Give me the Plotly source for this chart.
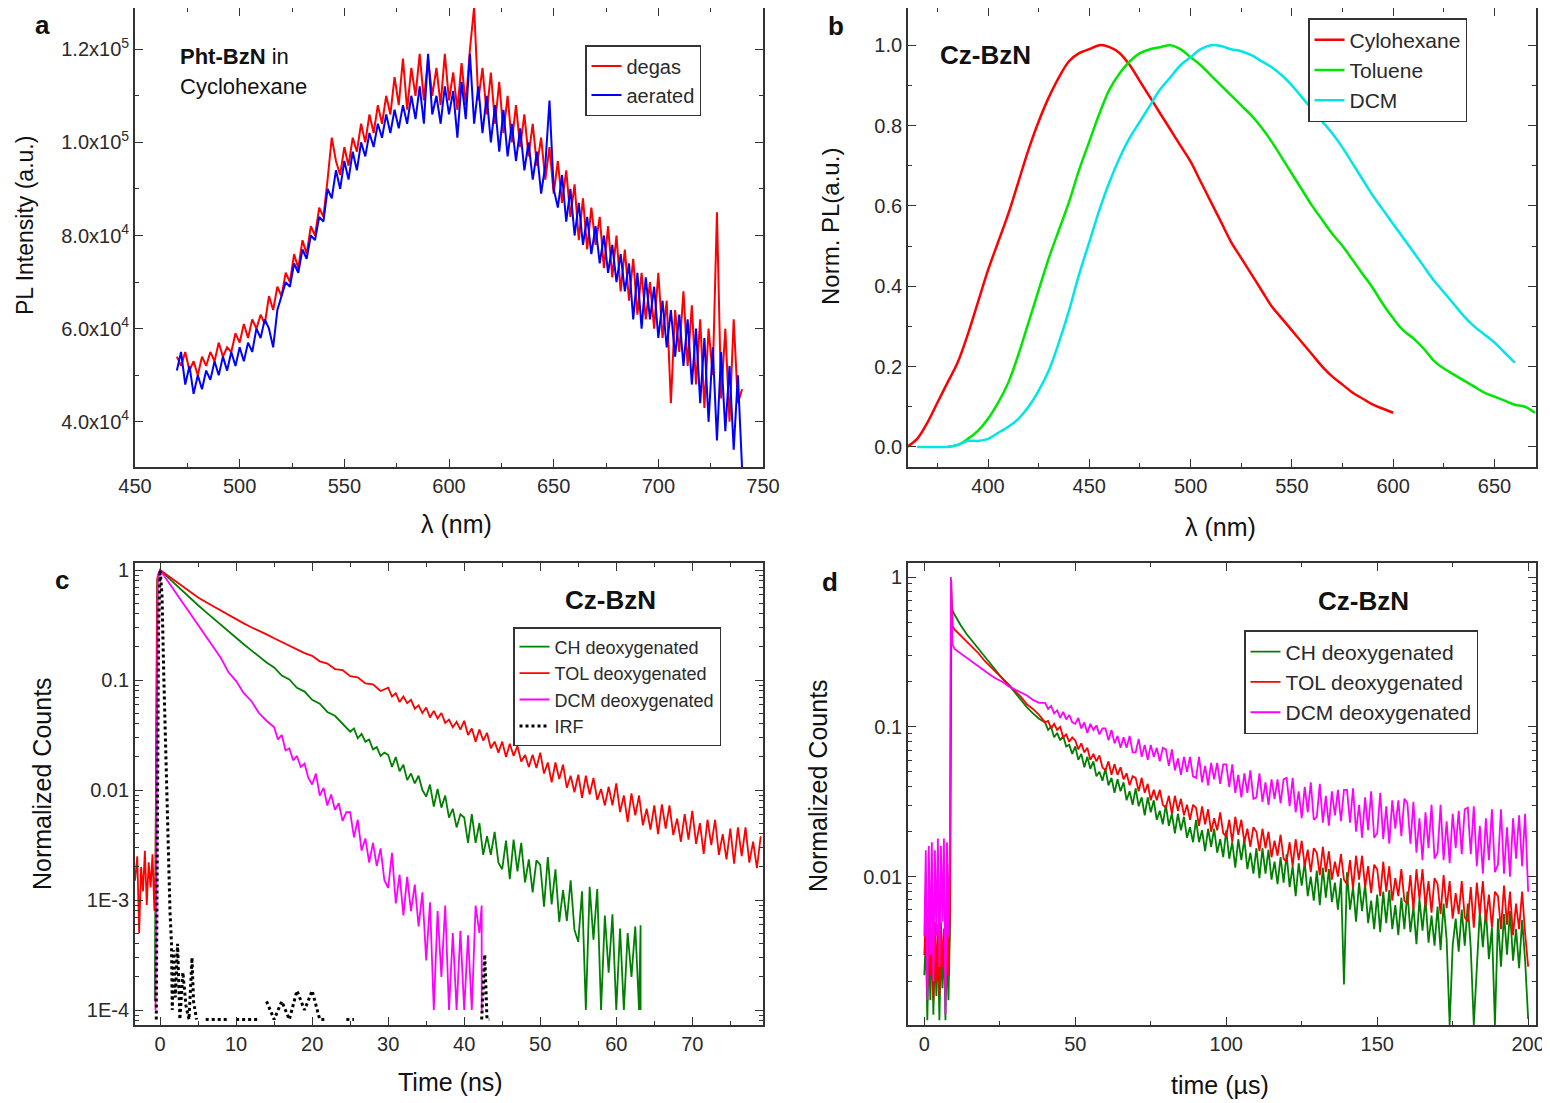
import plotly.graph_objects as go

# ---------------- data: panel a (Pht-BzN in cyclohexane) ----------------
a_wl = list(range(470, 741, 2))
a_degas_k = [54, 52, 55, 51, 53, 50, 54, 52, 55, 53,
             57, 54, 56, 55, 59, 57, 61, 58, 62, 60,
             63, 61, 67, 64, 69, 67, 72, 70, 76, 73,
             79, 76, 82, 80, 86, 84, 92, 101, 96, 93,
             99, 95, 101, 98, 104, 100, 106, 102, 108, 104,
             110, 106, 114, 108, 118, 107, 116, 110, 119, 109,
             118, 110, 116, 108, 119, 109, 115, 107, 117, 108,
             120, 129, 109, 116, 106, 115, 104, 113, 102, 110,
             100, 108, 99, 106, 97, 104, 95, 101, 92, 99,
             89, 96, 87, 94, 84, 91, 79, 88, 77, 86,
             78, 84, 73, 82, 71, 80, 68, 77, 66, 75,
             63, 72, 62, 70, 60, 72, 58, 66, 44, 64,
             55, 68, 52, 65, 48, 62, 43, 60, 50, 85,
             45, 60, 40, 62, 44, 47]
a_aerated_k = [51, 55, 48, 52, 46, 50, 47, 51, 49, 53,
               50, 54, 51, 55, 52, 56, 53, 57, 55, 60,
               58, 62, 60, 56, 64, 67, 70, 69, 74, 72,
               77, 75, 80, 79, 84, 83, 90, 88, 94, 90,
               96, 92, 98, 94, 100, 97, 102, 99, 104, 101,
               106, 102, 107, 103, 108, 104, 110, 105, 112, 104,
               119, 106, 110, 104, 112, 106, 111, 101, 113, 105,
               119, 104, 112, 102, 110, 100, 108, 98, 107, 97,
               104, 96, 103, 94, 100, 92, 98, 89, 95, 109,
               90, 86, 93, 83, 90, 80, 87, 78, 84, 76,
               82, 74, 80, 72, 78, 70, 76, 68, 74, 62,
               72, 60, 71, 62, 69, 58, 66, 56, 64, 54,
               63, 52, 62, 48, 60, 44, 58, 40, 56, 36,
               55, 38, 52, 34, 50, 30]
a_ytick_vals = [40000, 60000, 80000, 100000, 120000]
a_ytick_text = ["4.0x10<sup>4</sup>", "6.0x10<sup>4</sup>", "8.0x10<sup>4</sup>",
                "1.0x10<sup>5</sup>", "1.2x10<sup>5</sup>"]

# ---------------- data: panel b (Cz-BzN normalised PL) ----------------
b_wl_ch = list(range(360, 601, 5))
b_ch = [0.0, 0.02, 0.06, 0.11, 0.16, 0.21, 0.28, 0.36, 0.44, 0.51,
        0.58, 0.66, 0.74, 0.81, 0.87, 0.92, 0.96, 0.98, 0.99, 1.0,
        0.995, 0.98, 0.95, 0.91, 0.87, 0.83, 0.79, 0.75, 0.71, 0.66,
        0.61, 0.56, 0.51, 0.47, 0.43, 0.39, 0.35, 0.32, 0.29, 0.26,
        0.23, 0.20, 0.175, 0.155, 0.135, 0.12, 0.105, 0.095, 0.085]
b_wl_tol = list(range(380, 671, 5))
b_tol = [0.0, 0.005, 0.02, 0.04, 0.07, 0.11, 0.16, 0.23, 0.31, 0.39,
         0.47, 0.54, 0.61, 0.69, 0.76, 0.83, 0.89, 0.93, 0.96, 0.98,
         0.99, 0.995, 1.0, 0.99, 0.97, 0.95, 0.925, 0.90, 0.875, 0.85,
         0.825, 0.795, 0.76, 0.72, 0.68, 0.64, 0.60, 0.565, 0.53, 0.50,
         0.465, 0.43, 0.395, 0.355, 0.32, 0.29, 0.27, 0.245, 0.215, 0.195,
         0.18, 0.165, 0.15, 0.135, 0.125, 0.115, 0.105, 0.10, 0.085]
b_wl_dcm = list(range(365, 661, 5))
b_dcm = [0.0, 0.0, 0.0, 0.0, 0.005, 0.015, 0.015, 0.02, 0.035, 0.05,
         0.07, 0.10, 0.14, 0.19, 0.26, 0.34, 0.43, 0.51, 0.59, 0.66,
         0.72, 0.77, 0.81, 0.85, 0.89, 0.92, 0.95, 0.97, 0.99, 1.0,
         0.998, 0.99, 0.985, 0.975, 0.96, 0.945, 0.925, 0.90, 0.87, 0.84,
         0.81, 0.78, 0.745, 0.705, 0.665, 0.625, 0.59, 0.555, 0.52, 0.485,
         0.45, 0.415, 0.385, 0.355, 0.325, 0.30, 0.28, 0.26, 0.235, 0.21]

# ---------------- data: panel c (ns decays; *_log are log10 of normalized counts) ----------------
c_tol_pre_t = [-3.3, -3.0, -2.75, -2.5, -2.25, -2.0, -1.75, -1.5, -1.25, -1.0, -0.75, -0.6, -0.35]
c_tol_pre = [0.0015, 0.0025, 0.0005, 0.002, 0.0012, 0.0028, 0.0009, 0.0022, 0.0013, 0.0026, 0.0008, 0.0018, 0.85]
c_tol_t = list(range(0, 30)) + [v / 2 for v in range(60, 159)]
c_tol_log = [0, -0.05, -0.10, -0.15, -0.20, -0.25, -0.29, -0.33, -0.37, -0.41,
             -0.45, -0.485, -0.52, -0.55, -0.585, -0.62, -0.655, -0.69, -0.72, -0.755,
             -0.78, -0.83, -0.85, -0.90, -0.91, -0.965, -0.975, -1.03, -1.04, -1.10,
             -1.07, -1.15, -1.12, -1.20, -1.15, -1.21, -1.18, -1.26, -1.23, -1.30,
             -1.25, -1.34, -1.28, -1.35, -1.30, -1.39, -1.36, -1.43, -1.38, -1.45,
             -1.37, -1.50, -1.44, -1.56, -1.45, -1.55, -1.48, -1.62, -1.56, -1.66,
             -1.56, -1.70, -1.58, -1.69, -1.60, -1.74, -1.68, -1.79, -1.68, -1.80,
             -1.66, -1.85, -1.75, -1.93, -1.75, -1.90, -1.77, -1.98, -1.87, -2.02,
             -1.86, -2.07, -1.87, -2.04, -1.89, -2.09, -1.99, -2.14, -1.97, -2.14,
             -1.94, -2.20, -2.05, -2.29, -2.03, -2.23, -2.05, -2.32, -2.17, -2.36,
             -2.14, -2.40, -2.13, -2.35, -2.14, -2.41, -2.26, -2.47, -2.22, -2.45,
             -2.19, -2.49, -2.30, -2.58, -2.27, -2.50, -2.27, -2.59, -2.40, -2.63,
             -2.35, -2.67, -2.34, -2.60, -2.34, -2.66, -2.47, -2.71, -2.42]
c_ch_pre_t = [-0.7, -0.4]
c_ch_pre = [0.00012, 0.8]
c_ch_t = list(range(0, 25)) + [v / 2 for v in range(50, 127)] + [63.2, 63.2]
c_ch_log = [0, -0.065, -0.13, -0.19, -0.255, -0.32, -0.38, -0.44, -0.50, -0.56,
            -0.62, -0.675, -0.73, -0.785, -0.84, -0.885, -0.96, -0.995, -1.07, -1.105,
            -1.18, -1.215, -1.29, -1.325, -1.40,
            -1.47, -1.44, -1.53, -1.49, -1.56, -1.54, -1.63, -1.61, -1.69, -1.66,
            -1.68, -1.79, -1.70, -1.83, -1.77, -1.91, -1.85, -1.94, -1.87, -2.00,
            -2.06, -1.95, -2.15, -1.99, -2.16, -2.05, -2.25, -2.17, -2.34, -2.22,
            -2.25, -2.48, -2.22, -2.48, -2.30, -2.59, -2.42, -2.59, -2.38, -2.66,
            -2.72, -2.46, -2.81, -2.45, -2.74, -2.48, -2.84, -2.63, -2.93, -2.64,
            -2.68, -3.06, -2.61, -3.04, -2.72, -3.20, -2.91, -3.19, -2.82, -3.27,
            -3.38, -2.92, -4.0, -2.88, -3.36, -2.90, -4.0, -3.14, -3.66, -3.13,
            -4.0, -3.26, -4.0, -3.30, -3.7, -3.24, -4.0,
            -3.23, -4.0]
c_dcm_pre_t = [-0.6, -0.3]
c_dcm_pre = [0.0001, 0.9]
c_dcm_t = list(range(0, 15)) + [v / 2 for v in range(30, 85)] + [42.3, 42.3]
c_dcm_log = [0, -0.10, -0.20, -0.30, -0.40, -0.50, -0.605, -0.71, -0.80, -0.93,
             -1.01, -1.12, -1.19, -1.30, -1.37,
             -1.43, -1.54, -1.50, -1.64, -1.62, -1.73, -1.69, -1.79, -1.76, -1.89,
             -1.95, -1.85, -2.05, -1.98, -2.14, -2.04, -2.18, -2.12, -2.28, -2.20,
             -2.20, -2.43, -2.27, -2.55, -2.44, -2.66, -2.48, -2.69, -2.53, -2.82,
             -2.89, -2.57, -3.03, -2.77, -3.14, -2.79, -3.10, -2.86, -3.24, -2.93,
             -3.55, -3.02, -4.0, -3.10, -3.70, -3.05, -4.0, -3.30, -4.0, -3.28,
             -4.0, -3.32, -4.0, -3.05, -3.3,
             -3.05, -4.0]
c_irf_t = [-0.5, -0.2, 0.0, 0.25, 0.5, 0.7, 0.9, 1.1, 1.3, 1.5, 1.6, 1.8, 2.0, 2.3, 2.6, 3.0, 3.4, 3.8,
           4.2, 4.4, 4.8, 5.2, 6, 9, 9.5, 10, 13, 13.5, 14, 15, 16, 17, 18, 19, 20, 21, 22, 23,
           24.5, 25.5, 26, 42.3, 42.5, 42.7, 43.0, 43.3]
c_irf = [8.2e-5, 0.3, 1.0, 0.6, 0.1, 0.03, 0.008, 0.002, 8e-4, 4e-4, 1.0e-4, 3.5e-4, 1.3e-4, 4e-4, 8.2e-5,
         2.2e-4, 1.1e-4, 8.2e-5, 3e-4, 1.2e-4, 8.2e-5, None, 8.2e-5, 8.2e-5, None, 8.2e-5, 8.2e-5, None,
         1.2e-4, 8.2e-5, 1.2e-4, 8.2e-5, 1.5e-4, 1.0e-4, 1.5e-4, 8.2e-5, 8.2e-5, None,
         8.2e-5, 8.2e-5, None, 8.2e-5, 2e-4, 3.2e-4, 8.2e-5, 8.2e-5]
c_ytick_vals = [1e-4, 1e-3, 1e-2, 1e-1, 1]
c_ytick_text = ["1E-4", "1E-3", "0.01", "0.1", "1"]

# ---------------- data: panel d (us decays; *_log are log10 of normalized counts) ----------------
d_t_pre = [0, 0.5, 1, 1.5, 2, 2.5, 3, 3.5, 4, 4.5, 5, 5.5, 6, 6.5, 7, 7.5, 8, 8.5]
d_ch_pre = [0.0022, 0.004, 0.0011, 0.0035, 0.0015, 0.004, 0.0012, 0.0032, 0.0016, 0.0038,
            0.0011, 0.0034, 0.0018, 0.0036, 0.0011, 0.0032, 0.0015, 0.0045]
d_tol_pre = [0.003, 0.0055, 0.0018, 0.005, 0.0022, 0.0045, 0.0015, 0.005, 0.002, 0.0048,
             0.0016, 0.005, 0.0025, 0.0045, 0.0018, 0.0052, 0.0022, 0.0058]
d_dcm_pre = [0.004, 0.015, 0.0015, 0.016, 0.003, 0.017, 0.002, 0.015, 0.004, 0.018,
             0.0025, 0.016, 0.005, 0.018, 0.0012, 0.017, 0.004, 0.019]
d_ch_peak_t, d_ch_peak = [9.0], [0.62]
d_tol_peak_t, d_tol_peak = [8.9, 9.4], [0.96, 0.47]
d_dcm_peak_t, d_dcm_peak = [8.8, 9.3], [1.0, 0.36]
d_t_main = list(range(10, 39, 2)) + list(range(40, 201))
d_ch_log = [-0.25, -0.32, -0.38, -0.43, -0.48, -0.53, -0.58, -0.63, -0.68, -0.72, -0.77, -0.82, -0.87, -0.91, -0.945,
            -0.97, -1.02, -1.00, -1.07, -1.04, -1.09, -1.06, -1.13, -1.12, -1.18,
            -1.13, -1.22, -1.18, -1.27, -1.20, -1.28, -1.23, -1.33, -1.30, -1.36,
            -1.28, -1.39, -1.34, -1.44, -1.35, -1.43, -1.37, -1.49, -1.43, -1.52,
            -1.41, -1.53, -1.47, -1.59, -1.47, -1.57, -1.49, -1.62, -1.56, -1.65,
            -1.52, -1.66, -1.58, -1.71, -1.58, -1.69, -1.60, -1.74, -1.67, -1.77,
            -1.62, -1.77, -1.69, -1.83, -1.68, -1.80, -1.68, -1.84, -1.75, -1.87,
            -1.69, -1.88, -1.77, -1.94, -1.75, -1.89, -1.75, -1.95, -1.84, -1.98,
            -1.81, -2.01, -1.81, -1.98, -1.82, -2.02, -1.90, -2.05, -1.87, -2.04,
            -1.85, -2.07, -1.93, -2.13, -1.91, -2.06, -1.90, -2.13, -2.00, -2.16,
            -1.96, -2.19, -1.94, -2.14, -1.95, -2.17, -2.04, -2.22, -2.01, -2.72,
            -1.97, -2.22, -2.07, -2.30, -2.04, -2.23, -2.05, -2.31, -2.16, -2.35,
            -2.12, -2.37, -2.10, -2.31, -2.09, -2.35, -2.19, -2.39, -2.14, -2.35,
            -2.10, -2.37, -2.20, -2.45, -2.15, -2.36, -2.15, -2.44, -2.26, -2.46,
            -2.20, -2.49, -2.18, -2.42, -2.99, -2.46, -2.28, -2.50, -2.22, -2.46,
            -2.18, -2.48, -2.99, -2.57, -2.23, -2.47, -2.22, -2.55, -2.34, -2.99,
            -2.28, -2.60, -2.25, -2.52, -2.23, -2.56, -2.35, -2.61, -2.29, -2.56, -2.95]
d_tol_log = [-0.35, -0.39, -0.43, -0.47, -0.51, -0.56, -0.60, -0.64, -0.68, -0.72, -0.76, -0.80, -0.85, -0.88, -0.92,
             -0.97, -0.96, -1.01, -0.98, -1.02, -1.00, -1.07, -1.05, -1.10, -1.07,
             -1.09, -1.15, -1.11, -1.17, -1.14, -1.22, -1.18, -1.23, -1.19, -1.27,
             -1.29, -1.23, -1.32, -1.25, -1.32, -1.27, -1.35, -1.31, -1.39, -1.33,
             -1.34, -1.43, -1.34, -1.44, -1.38, -1.49, -1.42, -1.49, -1.42, -1.52,
             -1.54, -1.46, -1.58, -1.46, -1.56, -1.48, -1.59, -1.52, -1.62, -1.52,
             -1.54, -1.66, -1.53, -1.65, -1.55, -1.70, -1.61, -1.69, -1.57, -1.71,
             -1.73, -1.62, -1.77, -1.60, -1.72, -1.62, -1.77, -1.68, -1.80, -1.67,
             -1.70, -1.83, -1.68, -1.81, -1.70, -1.87, -1.76, -1.86, -1.72, -1.88,
             -1.90, -1.77, -1.93, -1.75, -1.89, -1.76, -1.93, -1.82, -1.97, -1.81,
             -1.84, -1.99, -1.80, -1.97, -1.83, -2.02, -1.90, -2.00, -1.85, -2.02,
             -2.05, -1.89, -2.08, -1.86, -2.02, -1.86, -2.07, -1.93, -2.11, -1.92,
             -1.95, -2.13, -1.90, -2.10, -1.93, -2.16, -2.01, -2.13, -1.95, -2.16,
             -2.18, -1.99, -2.22, -1.95, -2.15, -1.95, -2.20, -2.03, -2.24, -2.01,
             -2.05, -2.25, -1.99, -2.21, -2.03, -2.28, -2.11, -2.25, -2.03, -2.27,
             -2.30, -2.07, -2.34, -2.04, -2.25, -2.03, -2.30, -2.12, -2.34, -2.10,
             -2.13, -2.35, -2.06, -2.32, -2.10, -2.39, -2.18, -2.35, -2.10, -2.38, -2.60]
d_dcm_log = [-0.48, -0.51, -0.54, -0.57, -0.60, -0.63, -0.655, -0.68, -0.70, -0.73, -0.75, -0.77, -0.79, -0.82, -0.84,
             -0.84, -0.88, -0.86, -0.91, -0.89, -0.94, -0.90, -0.95, -0.92, -0.97,
             -0.98, -0.94, -1.01, -0.97, -1.04, -0.98, -1.02, -0.99, -1.05, -1.01,
             -1.01, -1.09, -1.02, -1.11, -1.06, -1.14, -1.07, -1.14, -1.06, -1.17,
             -1.17, -1.08, -1.20, -1.12, -1.22, -1.12, -1.20, -1.14, -1.23, -1.14,
             -1.15, -1.26, -1.15, -1.29, -1.21, -1.32, -1.20, -1.30, -1.20, -1.33,
             -1.34, -1.20, -1.37, -1.26, -1.39, -1.24, -1.35, -1.24, -1.38, -1.25,
             -1.25, -1.40, -1.25, -1.44, -1.32, -1.47, -1.31, -1.44, -1.29, -1.48,
             -1.47, -1.31, -1.50, -1.37, -1.52, -1.35, -1.48, -1.35, -1.51, -1.35,
             -1.34, -1.53, -1.34, -1.57, -1.43, -1.61, -1.40, -1.57, -1.37, -1.62,
             -1.60, -1.38, -1.64, -1.46, -1.66, -1.43, -1.59, -1.42, -1.63, -1.42,
             -1.42, -1.64, -1.41, -1.70, -1.52, -1.74, -1.47, -1.69, -1.43, -1.74,
             -1.71, -1.44, -1.75, -1.53, -1.78, -1.49, -1.68, -1.49, -1.73, -1.48,
             -1.51, -1.78, -1.50, -1.84, -1.61, -1.89, -1.57, -1.81, -1.52, -1.88,
             -1.84, -1.52, -1.89, -1.63, -1.91, -1.58, -1.81, -1.56, -1.85, -1.55,
             -1.54, -1.85, -1.53, -1.93, -1.66, -1.98, -1.61, -1.89, -1.55, -1.97,
             -1.92, -1.55, -1.98, -1.67, -2.00, -1.61, -1.88, -1.59, -1.93, -1.58, -2.10]
d_ytick_vals = [0.01, 0.1, 1]
d_ytick_text = ["0.01", "0.1", "1"]

# ---------------- styling ----------------
W, H = 1550, 1103
OFF = 8  # page body margin of the browser
FONT = "Liberation Sans, Arial, sans-serif"
AX = "#333333"
TXT = "#2a2a2a"


def px(x):
    return min(1.0, max(0.0, (x - OFF) / W))


def py(y):
    return min(1.0, max(0.0, 1 - (y - OFF) / H))


def unlog(vals):
    return [10 ** v for v in vals]


RED = "#ff0000"
BLUE = "#0000ff"
LGREEN = "#00e600"
CYAN = "#00e6e6"
DGREEN = "#008000"
MAG = "#ff00ff"

fig = go.Figure()

# panel a
fig.add_trace(go.Scatter(x=a_wl, y=[v * 1000 for v in a_degas_k], mode="lines", name="degas",
                         line=dict(color=RED, width=2), xaxis="x", yaxis="y", legend="legend"))
fig.add_trace(go.Scatter(x=a_wl, y=[v * 1000 for v in a_aerated_k], mode="lines", name="aerated",
                         line=dict(color=BLUE, width=2), xaxis="x", yaxis="y", legend="legend"))
# panel b
fig.add_trace(go.Scatter(x=b_wl_ch, y=b_ch, mode="lines", name="Cylohexane", line_shape="spline",
                         line=dict(color=RED, width=2.5), xaxis="x2", yaxis="y2", legend="legend2"))
fig.add_trace(go.Scatter(x=b_wl_tol, y=b_tol, mode="lines", name="Toluene", line_shape="spline",
                         line=dict(color=LGREEN, width=2.5), xaxis="x2", yaxis="y2", legend="legend2"))
fig.add_trace(go.Scatter(x=b_wl_dcm, y=b_dcm, mode="lines", name="DCM", line_shape="spline",
                         line=dict(color=CYAN, width=2.5), xaxis="x2", yaxis="y2", legend="legend2"))
# panel c
fig.add_trace(go.Scatter(x=c_ch_pre_t + c_ch_t, y=c_ch_pre + unlog(c_ch_log), mode="lines",
                         name="CH deoxygenated", line=dict(color=DGREEN, width=1.8),
                         xaxis="x3", yaxis="y3", legend="legend3"))
fig.add_trace(go.Scatter(x=c_tol_pre_t + c_tol_t, y=c_tol_pre + unlog(c_tol_log), mode="lines",
                         name="TOL deoxygenated", line=dict(color=RED, width=1.8),
                         xaxis="x3", yaxis="y3", legend="legend3"))
fig.add_trace(go.Scatter(x=c_dcm_pre_t + c_dcm_t, y=c_dcm_pre + unlog(c_dcm_log), mode="lines",
                         name="DCM deoxygenated", line=dict(color=MAG, width=1.8),
                         xaxis="x3", yaxis="y3", legend="legend3"))
fig.add_trace(go.Scatter(x=c_irf_t, y=c_irf, mode="lines", name="IRF", connectgaps=False,
                         line=dict(color="black", width=3, dash="dot"), xaxis="x3", yaxis="y3",
                         legend="legend3"))
# panel d
fig.add_trace(go.Scatter(x=d_t_pre + d_ch_peak_t + d_t_main, y=d_ch_pre + d_ch_peak + unlog(d_ch_log),
                         mode="lines", name="CH deoxygenated", line=dict(color=DGREEN, width=1.8),
                         xaxis="x4", yaxis="y4", legend="legend4"))
fig.add_trace(go.Scatter(x=d_t_pre + d_tol_peak_t + d_t_main, y=d_tol_pre + d_tol_peak + unlog(d_tol_log),
                         mode="lines", name="TOL deoxygenated", line=dict(color=RED, width=1.8),
                         xaxis="x4", yaxis="y4", legend="legend4"))
fig.add_trace(go.Scatter(x=d_t_pre + d_dcm_peak_t + d_t_main, y=d_dcm_pre + d_dcm_peak + unlog(d_dcm_log),
                         mode="lines", name="DCM deoxygenated", line=dict(color=MAG, width=1.8),
                         xaxis="x4", yaxis="y4", legend="legend4"))


def axis(**kw):
    base = dict(showline=True, linecolor=AX, linewidth=1.8, mirror="allticks", ticks="inside",
                ticklen=8, tickwidth=1.4, tickcolor=AX, showgrid=False, zeroline=False,
                automargin=False, tickfont=dict(family=FONT, size=20, color=TXT))
    base.update(kw)
    return base


def minor(**kw):
    m = dict(ticks="inside", ticklen=4, tickwidth=1.2, tickcolor=AX, showgrid=False)
    m.update(kw)
    return m


def log_minor(lo, hi):
    vals = []
    for e in range(lo, hi):
        for k in range(2, 10):
            vals.append(k * 10 ** e)
    return vals


left_a, right_a = px(135), px(763)
left_b, right_b = px(908), px(1536)
top_r1, bot_r1 = py(8), py(467)      # reference top edge is at y=5, 3 px above the page offset
top_r2, bot_r2 = py(563), py(1025)

legend_common = dict(xanchor="left", yanchor="top", bordercolor="#333", borderwidth=1.5,
                     bgcolor="white", tracegroupgap=0)

fig.update_layout(
    width=W, height=H, autosize=False, margin=dict(l=0, r=0, t=0, b=0, pad=0),
    paper_bgcolor="white", plot_bgcolor="white",
    font=dict(family=FONT, color=TXT),
    xaxis=axis(domain=[left_a, right_a], anchor="y", range=[450, 750], tick0=450, dtick=50,
               minor=minor(dtick=25)),
    yaxis=axis(domain=[bot_r1, top_r1], anchor="x", range=[30300, 128850], tickmode="array",
               tickvals=a_ytick_vals, ticktext=a_ytick_text,
               minor=minor(tickmode="array", tickvals=[50000, 70000, 90000, 110000])),
    xaxis2=axis(domain=[left_b, right_b], anchor="y2", range=[360.5, 670.5], tick0=0, dtick=50,
                minor=minor(dtick=25)),
    yaxis2=axis(domain=[bot_r1, top_r1], anchor="x2", range=[-0.05, 1.0925], tick0=0, dtick=0.2,
                tickformat=".1f", minor=minor(dtick=0.1)),
    xaxis3=axis(domain=[left_a, right_a], anchor="y3", range=[-3.3, 79.3], tick0=0, dtick=10,
                minor=minor(dtick=5)),
    yaxis3=axis(domain=[bot_r2, top_r2], anchor="x3", type="log", range=[-4.136, 0.064],
                tickmode="array", tickvals=c_ytick_vals, ticktext=c_ytick_text,
                minor=minor(tickmode="array", tickvals=log_minor(-5, 0))),
    xaxis4=axis(domain=[left_b, right_b], anchor="y4", range=[-5.4, 202.6], tick0=0, dtick=50,
                minor=minor(dtick=25)),
    yaxis4=axis(domain=[bot_r2, top_r2], anchor="x4", type="log", range=[-2.99, 0.094],
                tickmode="array", tickvals=d_ytick_vals, ticktext=d_ytick_text,
                minor=minor(tickmode="array", tickvals=log_minor(-3, 0))),
    legend=dict(x=px(585), y=py(45), font=dict(family=FONT, size=20, color=TXT), **legend_common),
    legend2=dict(x=px(1308), y=py(18), font=dict(family=FONT, size=21, color=TXT), **legend_common),
    legend3=dict(x=px(513), y=py(627), font=dict(family=FONT, size=18, color=TXT), **legend_common),
    legend4=dict(x=px(1244), y=py(630), font=dict(family=FONT, size=21, color=TXT), **legend_common),
    showlegend=True,
)


def ann(text, x, y, size, bold=False, angle=0, xanchor="center", yanchor="middle"):
    fig.add_annotation(text=("<b>%s</b>" % text) if bold else text, x=px(x), y=py(y),
                       xref="paper", yref="paper", showarrow=False, textangle=angle,
                       xanchor=xanchor, yanchor=yanchor,
                       font=dict(family=FONT, size=size, color="#111"))


# panel letters
ann("a", 42, 25, 26, bold=True)
ann("b", 836, 26, 26, bold=True)
ann("c", 62, 580, 26, bold=True)
ann("d", 830, 582, 26, bold=True)

# inset labels
ann("<b>Pht-BzN</b> in", 178, 57, 22, xanchor="left")
ann("Cyclohexane", 178, 86, 22, xanchor="left")
ann("Cz-BzN", 985, 55, 26, bold=True)
ann("Cz-BzN", 610, 600, 26, bold=True)
ann("Cz-BzN", 1363, 601, 26, bold=True)

# axis titles
ann("λ (nm)", 456, 524, 25)
ann("PL Intensity (a.u.)", 25, 226, 23, angle=-90)
ann("λ (nm)", 1220, 527, 25)
ann("Norm. PL(a.u.)", 830, 226, 24, angle=-90)
ann("Time (ns)", 450, 1082, 25)
ann("Normalized Counts", 42, 784, 25, angle=-90)
ann("time (µs)", 1220, 1085, 25)
ann("Normalized Counts", 818, 786, 25, angle=-90)

fig.write_html("out.html")
